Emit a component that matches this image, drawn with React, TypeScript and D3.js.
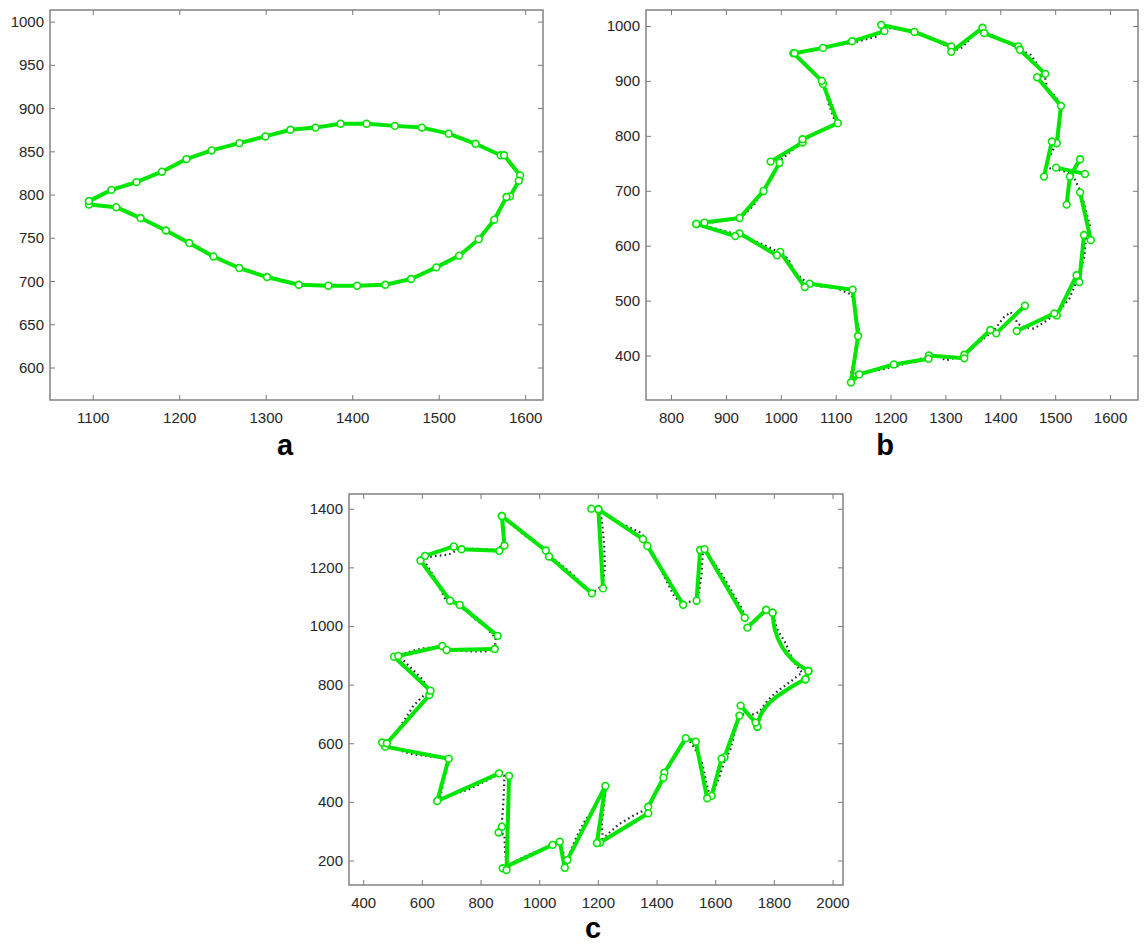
import React from "react";
import * as d3 from "d3";

type Pt = [number, number];

// ---------- Panel a ----------
const leafA: Pt[] = [
  [1095, 793], [1121, 806], [1150, 815], [1179.5, 827], [1207.7, 841.6], [1236.8, 851.6],
  [1269, 860], [1299, 867.8], [1328, 875.5], [1357, 878], [1386, 882.5], [1416, 882.5],
  [1448.7, 880], [1480, 878], [1511, 871], [1542, 859.3], [1571, 846], [1575, 846],
  [1593.6, 822.7], [1592, 816.6], [1582, 798.5], [1577.8, 797.7], [1563.7, 771.5],
  [1545.7, 749], [1523, 729.9], [1496.6, 716.4], [1467.5, 702.9], [1437.6, 696.3],
  [1405, 695.2], [1371.8, 695.2], [1337.6, 696.3], [1300.9, 705.2], [1268.8, 715.6],
  [1238.9, 729], [1211, 744.5], [1184, 759], [1154.7, 773.4], [1126.5, 786], [1095, 789], [1095, 793],
];
const truthA: Pt[] = [[1575, 846], [1584, 834], [1593, 823]];
const A_XTICKS = [1100, 1200, 1300, 1400, 1500, 1600];
const A_YTICKS = [600, 650, 700, 750, 800, 850, 900, 950, 1000];

// ---------- Panel b ----------
const leafB1: Pt[] = [[845, 640.5], [860, 643], [924, 651.4], [967.7, 700.6], [996.8, 752]];
const leafB2: Pt[] = [
  [980.6, 754], [1038.7, 788.7], [1038.7, 794.7], [1103, 824], [1076, 895.5], [1074, 901],
  [1022, 951.4], [1024, 951.4], [1076, 961], [1129, 973], [1188, 991.5], [1182, 1003],
  [1242.6, 990], [1309.7, 963.6], [1309.7, 953.8], [1366.5, 997.6], [1369.7, 987.9],
  [1432, 963.6], [1434.8, 957.5], [1481, 913.8], [1466, 907.7], [1509.7, 855.5], [1502, 787.5],
];
const leafB3: Pt[] = [[1493, 790.5], [1478.7, 726.7]];
const leafB4: Pt[] = [[1500.6, 743], [1553.5, 731.6]];
const leafB5: Pt[] = [[1544.5, 758.3], [1525.8, 726.7], [1520, 675.7]];
const leafB6: Pt[] = [[1544.5, 698], [1564, 611]];
const leafB7: Pt[] = [
  [1551.6, 620.4], [1543, 534.8], [1538, 547], [1502, 474], [1497.4, 477.7], [1429, 445.6],
];
const leafB8: Pt[] = [
  [1444, 491.7], [1391.6, 441.3], [1381, 447.4], [1333.5, 402.4], [1333.5, 395.8],
  [1269, 401], [1268.4, 395], [1205, 384.8], [1142, 366.6], [1127, 352], [1140, 436.4],
  [1130, 520.9], [1051.6, 531.8], [1043, 525.7], [998, 589.5], [992, 583.4], [923.9, 623.4],
  [916, 618.6], [845, 640.5],
];
const truthB: Pt[] = [
  [848, 640], [885, 645], [925, 650], [950, 675], [966, 700], [985, 728], [1000, 758], [1020, 775],
  [1040, 792], [1070, 810], [1100, 822], [1086, 860], [1078, 900], [1050, 925], [1022, 950],
  [1075, 962], [1130, 970], [1175, 982], [1185, 998], [1240, 992], [1280, 975], [1315, 956],
  [1330, 962], [1350, 985], [1365, 993], [1400, 977], [1432, 960], [1455, 948], [1470, 925],
  [1480, 910], [1485, 885], [1500, 872], [1509, 855], [1505, 800], [1495, 775], [1485, 755],
  [1482, 743], [1500, 740], [1520, 735], [1532, 728], [1545, 700], [1555, 665], [1563, 635],
  [1555, 615], [1552, 580], [1546, 560], [1540, 540], [1525, 505], [1505, 480], [1480, 462],
  [1460, 450], [1445, 452], [1432, 458], [1418, 480], [1405, 470], [1388, 447], [1360, 425],
  [1335, 402], [1300, 392], [1285, 400], [1260, 397], [1230, 387], [1180, 375], [1140, 367],
  [1128, 370], [1135, 410], [1142, 445], [1135, 480], [1128, 512], [1100, 524], [1070, 527],
  [1045, 535], [1025, 552], [1015, 572], [1005, 585], [960, 606], [925, 620], [880, 632], [848, 640],
];
const B_XTICKS = [800, 900, 1000, 1100, 1200, 1300, 1400, 1500, 1600];
const B_YTICKS = [400, 500, 600, 700, 800, 900, 1000];

// ---------- Panel c ----------
const leafC1: Pt[] = [[871, 1377], [1021, 1259], [1032, 1239], [1178, 1113]];
const leafC2: Pt[] = [[1216, 1130], [1200, 1400], [1176, 1402]];
const leafC3: Pt[] = [[1200, 1400], [1352, 1298], [1367, 1275], [1489, 1074]];
const leafC4: Pt[] = [[1535, 1088], [1547, 1261], [1562, 1264], [1699, 1030]];
const leafC5: Pt[] = [[1708, 996], [1772, 1057], [1794, 1047]];
const leafC6: Pt[] = [[1794, 1047], [1802, 988], [1826, 931], [1864, 884], [1916, 848]];
const leafC7: Pt[] = [[1916, 848], [1906, 820]];
const leafC8: Pt[] = [[1906, 820], [1860, 795], [1786, 742], [1754, 700], [1742, 658]];
const leafC9: Pt[] = [[1742, 658], [1736, 672], [1685, 730]];
const leafC10: Pt[] = [
  [1681, 696], [1630, 554], [1620, 549], [1586, 422], [1571, 414], [1532, 607], [1498, 619],
  [1425, 501], [1422, 484], [1370, 385], [1370, 363], [1206, 263], [1195, 261], [1224, 456],
  [1094, 203], [1085.5, 177], [1068.5, 266], [1044, 255], [874, 175], [887, 169], [895.6, 490],
];
const leafC11: Pt[] = [[871, 317], [860, 297]];
const leafC12: Pt[] = [
  [861.5, 499], [650.8, 404.7], [689.8, 549], [473, 590], [463, 604], [479, 601.5], [624, 766],
  [628, 781], [503.5, 897], [518, 899.5], [668, 933.6], [682.5, 920], [847, 923],
];
const leafC13: Pt[] = [
  [856.6, 968], [727.5, 1073.6], [694.7, 1088], [593.6, 1225], [609, 1241], [707, 1273],
  [733.6, 1263.5], [862.7, 1258], [880, 1276], [871, 1377],
];
const truthC: Pt[] = [
  [595, 1230], [640, 1240], [690, 1245], [720, 1262], [780, 1265], [840, 1262], [862, 1265],
  [876, 1290], [878, 1340], [870, 1375], [950, 1310], [1000, 1275], [1060, 1220], [1110, 1180],
  [1150, 1140], [1180, 1115], [1215, 1140], [1222, 1200], [1220, 1280], [1212, 1360],
  [1205, 1395], [1280, 1350], [1345, 1320], [1360, 1300], [1390, 1240], [1430, 1160],
  [1460, 1100], [1490, 1080], [1515, 1085], [1540, 1100], [1552, 1180], [1556, 1250],
  [1565, 1260], [1620, 1180], [1660, 1110], [1690, 1060], [1705, 1020], [1720, 1010],
  [1745, 1030], [1775, 1050], [1795, 1040], [1810, 990], [1840, 940], [1860, 890], [1880, 860],
  [1895, 842], [1880, 832], [1855, 812], [1825, 790], [1800, 770], [1775, 745], [1750, 710],
  [1730, 700], [1710, 700], [1690, 700], [1680, 690], [1660, 620], [1650, 580], [1630, 540],
  [1610, 480], [1590, 430], [1580, 420], [1565, 480], [1555, 530], [1540, 565], [1515, 605],
  [1500, 615], [1465, 560], [1440, 525], [1420, 480], [1395, 430], [1380, 395], [1360, 375],
  [1320, 355], [1270, 325], [1230, 290], [1215, 275], [1212, 330], [1220, 400], [1224, 450],
  [1190, 390], [1150, 330], [1120, 270], [1100, 220], [1090, 190], [1080, 230], [1065, 265],
  [1010, 240], [960, 220], [920, 200], [890, 175], [882, 230], [880, 290], [860, 295],
  [870, 320], [875, 380], [878, 440], [880, 490], [860, 495], [810, 470], [760, 445],
  [700, 425], [660, 410], [670, 460], [690, 550], [640, 555], [600, 560], [560, 565],
  [530, 575], [480, 595], [470, 605], [500, 625], [525, 660], [545, 690], [570, 730],
  [600, 760], [625, 780], [600, 820], [570, 850], [540, 880], [520, 900], [560, 915],
  [600, 925], [650, 930], [700, 920], [760, 915], [820, 915], [848, 925], [850, 960],
  [820, 995], [780, 1025], [740, 1060], [710, 1085], [680, 1090], [660, 1130], [640, 1170],
  [615, 1210], [595, 1230],
];
const C_XTICKS = [400, 600, 800, 1000, 1200, 1400, 1600, 1800, 2000];
const C_YTICKS = [200, 400, 600, 800, 1000, 1200, 1400];

type Seg = { pts: Pt[]; curve?: boolean };

const GREEN = "#00e600";
const FONT = "'Liberation Sans', Arial, Helvetica, sans-serif";

interface PanelProps {
  id: string;
  box: { l: number; r: number; t: number; b: number };
  xDom: [number, number];
  yDom: [number, number];
  xTicks: number[];
  yTicks: number[];
  letter: string;
  letterX: number;
  letterY: number;
  segs: Seg[];
  truth: Pt[];
}

function Panel(p: PanelProps) {
  const { box } = p;
  const x = d3.scaleLinear().domain(p.xDom).range([box.l, box.r]);
  const y = d3.scaleLinear().domain(p.yDom).range([box.b, box.t]);
  const line = d3.line<Pt>().x((d) => x(d[0])).y((d) => y(d[1]));
  const curve = d3
    .line<Pt>()
    .x((d) => x(d[0]))
    .y((d) => y(d[1]))
    .curve(d3.curveCatmullRom.alpha(0.5));
  const tl = 5;
  const markers: Pt[] = [];
  p.segs.forEach((s) => {
    if (s.curve) {
      markers.push(s.pts[0], s.pts[s.pts.length - 1]);
    } else {
      s.pts.forEach((q) => markers.push(q));
    }
  });
  const clipId = "clip-" + p.id;
  return (
    <g>
      <defs>
        <clipPath id={clipId}>
          <rect x={box.l} y={box.t} width={box.r - box.l} height={box.b - box.t} />
        </clipPath>
      </defs>
      <rect x={box.l} y={box.t} width={box.r - box.l} height={box.b - box.t} fill="#fff" />
      <g clipPath={`url(#${clipId})`}>
        <path
          d={line(p.truth) || ""}
          fill="none"
          stroke="#2a2a33"
          strokeWidth={2.2}
          strokeDasharray="1.6 3.2"
        />
        {p.segs.map((s, i) => (
          <path
            key={i}
            d={(s.curve ? curve(s.pts) : line(s.pts)) || ""}
            fill="none"
            stroke={GREEN}
            strokeWidth={4}
            strokeLinejoin="round"
            strokeLinecap="round"
          />
        ))}
        {markers.map((m, i) => (
          <circle
            key={i}
            cx={x(m[0])}
            cy={y(m[1])}
            r={3.4}
            fill="#fff"
            stroke={GREEN}
            strokeWidth={1.6}
          />
        ))}
      </g>
      {p.xTicks.map((t) => (
        <g key={"x" + t}>
          <line x1={x(t)} x2={x(t)} y1={box.b} y2={box.b - tl} stroke="#7a7a7a" strokeWidth={1} />
          <line x1={x(t)} x2={x(t)} y1={box.t} y2={box.t + tl} stroke="#7a7a7a" strokeWidth={1} />
          <text
            x={x(t)}
            y={box.b + 23}
            textAnchor="middle"
            fontFamily={FONT}
            fontSize={15}
            fill="#262626"
          >
            {t}
          </text>
        </g>
      ))}
      {p.yTicks.map((t) => (
        <g key={"y" + t}>
          <line x1={box.l} x2={box.l + tl} y1={y(t)} y2={y(t)} stroke="#7a7a7a" strokeWidth={1} />
          <line x1={box.r} x2={box.r - tl} y1={y(t)} y2={y(t)} stroke="#7a7a7a" strokeWidth={1} />
          <text
            x={box.l - 6}
            y={y(t) + 5}
            textAnchor="end"
            fontFamily={FONT}
            fontSize={15}
            fill="#262626"
          >
            {t}
          </text>
        </g>
      ))}
      <rect
        x={box.l}
        y={box.t}
        width={box.r - box.l}
        height={box.b - box.t}
        fill="none"
        stroke="#7a7a7a"
        strokeWidth={1.4}
      />
      <text
        x={p.letterX}
        y={p.letterY}
        textAnchor="middle"
        fontFamily={FONT}
        fontWeight="bold"
        fontSize={29}
        fill="#000"
      >
        {p.letter}
      </text>
    </g>
  );
}

export default function App() {
  const segsA: Seg[] = [{ pts: leafA }];
  const segsB: Seg[] = [leafB1, leafB2, leafB3, leafB4, leafB5, leafB6, leafB7, leafB8].map((pts) => ({ pts }));
  const segsC: Seg[] = [
    { pts: leafC1 },
    { pts: leafC2 },
    { pts: leafC3 },
    { pts: leafC4 },
    { pts: leafC5 },
    { pts: leafC6, curve: true },
    { pts: leafC7 },
    { pts: leafC8, curve: true },
    { pts: leafC9 },
    { pts: leafC10 },
    { pts: leafC11 },
    { pts: leafC12 },
    { pts: leafC13 },
  ];
  return (
    <svg
      width={1144}
      height={946}
      style={{ position: "absolute", left: 0, top: 0, background: "#fff" }}
    >
      <rect x={0} y={0} width={1144} height={946} fill="#fff" />
      <Panel
        id="a"
        box={{ l: 50, r: 543, t: 10, b: 400 }}
        xDom={[1050, 1620]}
        yDom={[563, 1014]}
        xTicks={A_XTICKS}
        yTicks={A_YTICKS}
        letter="a"
        letterX={285}
        letterY={455}
        segs={segsA}
        truth={truthA}
      />
      <Panel
        id="b"
        box={{ l: 646, r: 1138, t: 10, b: 400 }}
        xDom={[753.5, 1650]}
        yDom={[320, 1030]}
        xTicks={B_XTICKS}
        yTicks={B_YTICKS}
        letter="b"
        letterX={885}
        letterY={455}
        segs={segsB}
        truth={truthB}
      />
      <Panel
        id="c"
        box={{ l: 349, r: 843, t: 494, b: 885 }}
        xDom={[350, 2034]}
        yDom={[118, 1452]}
        xTicks={C_XTICKS}
        yTicks={C_YTICKS}
        letter="c"
        letterX={593}
        letterY={938}
        segs={segsC}
        truth={truthC}
      />
    </svg>
  );
}
